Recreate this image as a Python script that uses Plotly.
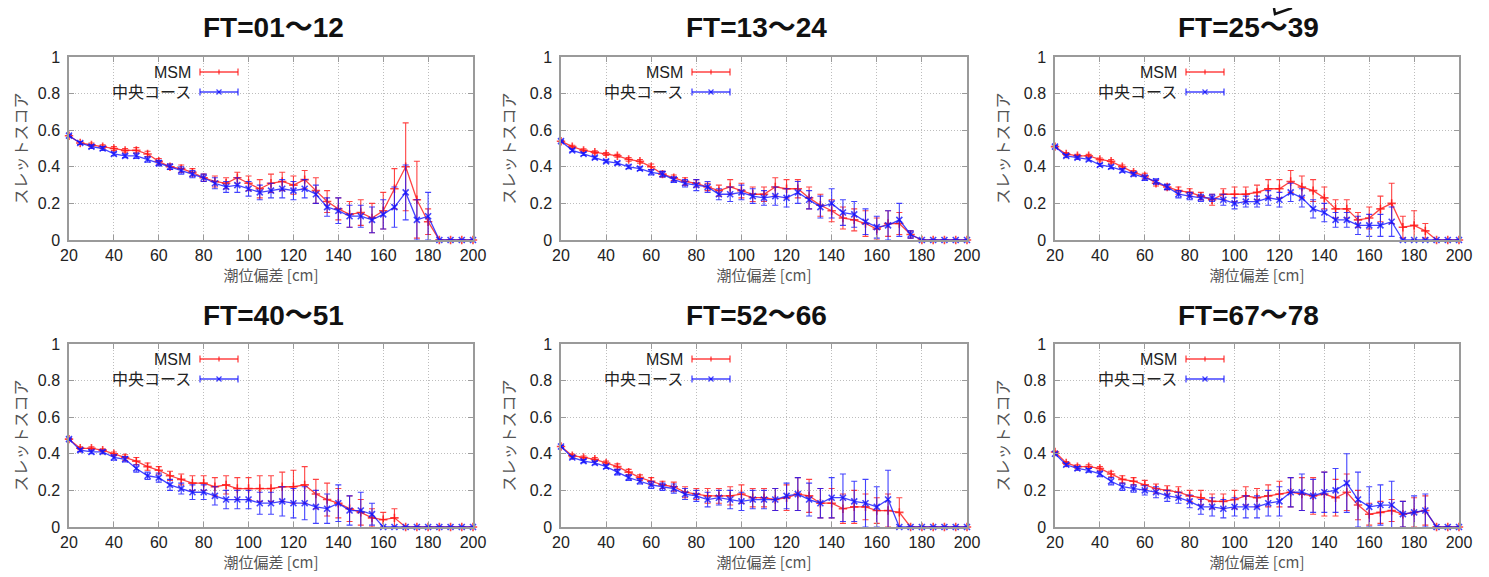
import plotly.graph_objects as go

# ---------------- data ----------------
DEVIATION_CM = [20, 25, 30, 35, 40, 45, 50, 55, 60, 65, 70, 75, 80,
                85, 90, 95, 100, 105, 110, 115, 120, 125, 130, 135, 140,
                145, 150, 155, 160, 165, 170, 175, 180, 185, 190, 195, 200]

PANEL_TITLES = ["FT=01～12", "FT=13～24", "FT=25～39",
                "FT=40～51", "FT=52～66", "FT=67～78"]
SERIES_NAMES = ["MSM", "中央コース"]
X_TITLE = "潮位偏差 [cm]"
Y_TITLE = "スレットスコア"
X_TICKS = [20, 40, 60, 80, 100, 120, 140, 160, 180, 200]
Y_TICKS = [0, 0.2, 0.4, 0.6, 0.8, 1]
Y_TICK_LABELS = ["0", "0.2", "0.4", "0.6", "0.8", "1"]

# FT=01~12
MSM_01 = [0.57, 0.53, 0.52, 0.51, 0.50, 0.49, 0.49, 0.47, 0.43, 0.40, 0.39, 0.37, 0.34,
          0.32, 0.31, 0.34, 0.31, 0.28, 0.31, 0.32, 0.30, 0.33, 0.27, 0.21, 0.17,
          0.14, 0.15, 0.12, 0.16, 0.28, 0.40, 0.22, 0.10, 0, 0, 0, 0]
MSM_01_ERR = [0.005, 0.008, 0.01, 0.01, 0.01, 0.01, 0.015, 0.015, 0.015, 0.015, 0.02, 0.02, 0.02,
              0.03, 0.03, 0.03, 0.04, 0.05, 0.05, 0.05, 0.05, 0.05, 0.07, 0.06, 0.06,
              0.07, 0.07, 0.08, 0.10, 0.11, 0.24, 0.21, 0.07, 0, 0, 0, 0]
CEN_01 = [0.57, 0.53, 0.51, 0.50, 0.47, 0.46, 0.46, 0.44, 0.42, 0.40, 0.38, 0.36, 0.34,
          0.31, 0.29, 0.30, 0.28, 0.26, 0.27, 0.28, 0.27, 0.28, 0.25, 0.18, 0.16,
          0.13, 0.13, 0.11, 0.14, 0.18, 0.26, 0.11, 0.13, 0, 0, 0, 0]
CEN_01_ERR = [0.005, 0.008, 0.01, 0.01, 0.01, 0.01, 0.015, 0.015, 0.015, 0.015, 0.02, 0.02, 0.02,
              0.03, 0.03, 0.04, 0.04, 0.04, 0.04, 0.05, 0.05, 0.05, 0.05, 0.05, 0.07,
              0.06, 0.06, 0.07, 0.08, 0.11, 0.15, 0.11, 0.13, 0, 0, 0, 0]

# FT=13~24
MSM_13 = [0.54, 0.51, 0.49, 0.48, 0.47, 0.46, 0.44, 0.43, 0.40, 0.36, 0.34, 0.32, 0.31,
          0.29, 0.27, 0.29, 0.27, 0.25, 0.25, 0.29, 0.28, 0.28, 0.23, 0.19, 0.16,
          0.12, 0.11, 0.09, 0.06, 0.09, 0.09, 0.03, 0, 0, 0, 0, 0]
MSM_13_ERR = [0.005, 0.008, 0.008, 0.008, 0.008, 0.008, 0.01, 0.01, 0.015, 0.015, 0.015, 0.02, 0.02,
              0.02, 0.03, 0.04, 0.04, 0.04, 0.04, 0.05, 0.05, 0.05, 0.06, 0.06, 0.06,
              0.06, 0.06, 0.07, 0.06, 0.07, 0.06, 0.02, 0, 0, 0, 0, 0]
CEN_13 = [0.54, 0.49, 0.47, 0.45, 0.43, 0.42, 0.40, 0.39, 0.37, 0.36, 0.33, 0.31, 0.30,
          0.29, 0.25, 0.25, 0.26, 0.24, 0.23, 0.24, 0.23, 0.26, 0.22, 0.18, 0.20,
          0.15, 0.14, 0.10, 0.07, 0.08, 0.11, 0.03, 0, 0, 0, 0, 0]
CEN_13_ERR = [0.005, 0.008, 0.008, 0.008, 0.008, 0.008, 0.01, 0.01, 0.015, 0.015, 0.015, 0.02, 0.03,
              0.03, 0.03, 0.04, 0.04, 0.04, 0.04, 0.05, 0.05, 0.06, 0.05, 0.06, 0.08,
              0.07, 0.07, 0.07, 0.06, 0.08, 0.09, 0.02, 0, 0, 0, 0, 0]

# FT=25~39
MSM_25 = [0.51, 0.47, 0.46, 0.46, 0.44, 0.43, 0.40, 0.37, 0.35, 0.31, 0.29, 0.27, 0.26,
          0.24, 0.22, 0.25, 0.25, 0.25, 0.26, 0.28, 0.28, 0.32, 0.29, 0.27, 0.23,
          0.17, 0.17, 0.11, 0.12, 0.17, 0.20, 0.07, 0.08, 0.05, 0, 0, 0]
MSM_25_ERR = [0.005, 0.008, 0.008, 0.008, 0.008, 0.01, 0.01, 0.01, 0.015, 0.015, 0.015, 0.02, 0.02,
              0.02, 0.03, 0.03, 0.04, 0.04, 0.04, 0.05, 0.05, 0.06, 0.06, 0.06, 0.06,
              0.05, 0.05, 0.04, 0.06, 0.07, 0.11, 0.06, 0.08, 0.04, 0, 0, 0]
CEN_25 = [0.51, 0.46, 0.45, 0.44, 0.41, 0.40, 0.38, 0.36, 0.34, 0.32, 0.29, 0.25, 0.24,
          0.23, 0.23, 0.22, 0.20, 0.21, 0.21, 0.23, 0.22, 0.26, 0.23, 0.17, 0.15,
          0.11, 0.11, 0.08, 0.08, 0.08, 0.10, 0, 0, 0, 0, 0, 0]
CEN_25_ERR = [0.005, 0.008, 0.008, 0.008, 0.008, 0.01, 0.01, 0.01, 0.015, 0.015, 0.015, 0.02, 0.02,
              0.02, 0.02, 0.03, 0.03, 0.03, 0.03, 0.04, 0.04, 0.05, 0.05, 0.05, 0.05,
              0.04, 0.04, 0.05, 0.06, 0.06, 0.08, 0, 0, 0, 0, 0, 0]

# FT=40~51
MSM_40 = [0.48, 0.43, 0.43, 0.42, 0.40, 0.38, 0.36, 0.33, 0.31, 0.28, 0.26, 0.24, 0.24,
          0.22, 0.23, 0.21, 0.21, 0.21, 0.21, 0.22, 0.22, 0.23, 0.18, 0.15, 0.13,
          0.10, 0.08, 0.05, 0.04, 0.05, 0, 0, 0, 0, 0, 0, 0]
MSM_40_ERR = [0.005, 0.008, 0.008, 0.008, 0.01, 0.015, 0.02, 0.02, 0.02, 0.025, 0.03, 0.04, 0.04,
              0.05, 0.05, 0.06, 0.06, 0.07, 0.07, 0.08, 0.09, 0.10, 0.08, 0.09, 0.08,
              0.07, 0.07, 0.05, 0.04, 0.05, 0, 0, 0, 0, 0, 0, 0]
CEN_40 = [0.48, 0.42, 0.41, 0.41, 0.38, 0.37, 0.32, 0.28, 0.27, 0.23, 0.21, 0.19, 0.19,
          0.17, 0.15, 0.15, 0.15, 0.13, 0.13, 0.14, 0.13, 0.13, 0.11, 0.10, 0.13,
          0.09, 0.09, 0.07, 0, 0, 0, 0, 0, 0, 0, 0, 0]
CEN_40_ERR = [0.005, 0.008, 0.01, 0.01, 0.015, 0.015, 0.02, 0.02, 0.025, 0.03, 0.03, 0.04, 0.04,
              0.05, 0.05, 0.05, 0.05, 0.06, 0.06, 0.08, 0.08, 0.09, 0.09, 0.08, 0.10,
              0.08, 0.10, 0.06, 0, 0, 0, 0, 0, 0, 0, 0, 0]

# FT=52~66
MSM_52 = [0.44, 0.39, 0.38, 0.37, 0.35, 0.33, 0.30, 0.27, 0.25, 0.23, 0.22, 0.19, 0.18,
          0.17, 0.17, 0.17, 0.18, 0.16, 0.16, 0.15, 0.16, 0.18, 0.17, 0.13, 0.13,
          0.10, 0.11, 0.11, 0.09, 0.09, 0.08, 0, 0, 0, 0, 0, 0]
MSM_52_ERR = [0.005, 0.008, 0.008, 0.01, 0.01, 0.015, 0.015, 0.015, 0.02, 0.02, 0.025, 0.03, 0.03,
              0.04, 0.04, 0.05, 0.05, 0.05, 0.05, 0.06, 0.07, 0.09, 0.09, 0.08, 0.08,
              0.08, 0.09, 0.07, 0.07, 0.09, 0.08, 0, 0, 0, 0, 0, 0]
CEN_52 = [0.44, 0.38, 0.36, 0.35, 0.33, 0.30, 0.27, 0.25, 0.23, 0.22, 0.21, 0.18, 0.17,
          0.15, 0.16, 0.15, 0.14, 0.15, 0.15, 0.15, 0.17, 0.18, 0.15, 0.13, 0.16,
          0.16, 0.14, 0.13, 0.11, 0.15, 0, 0, 0, 0, 0, 0, 0]
CEN_52_ERR = [0.005, 0.008, 0.008, 0.01, 0.01, 0.015, 0.015, 0.015, 0.02, 0.02, 0.025, 0.03, 0.03,
              0.04, 0.04, 0.05, 0.05, 0.05, 0.05, 0.06, 0.07, 0.09, 0.09, 0.08, 0.11,
              0.13, 0.11, 0.13, 0.11, 0.16, 0, 0, 0, 0, 0, 0, 0]

# FT=67~78
MSM_67 = [0.41, 0.35, 0.33, 0.33, 0.32, 0.29, 0.26, 0.25, 0.23, 0.21, 0.20, 0.19, 0.17,
          0.16, 0.14, 0.14, 0.15, 0.17, 0.16, 0.17, 0.18, 0.19, 0.18, 0.17, 0.18,
          0.16, 0.19, 0.12, 0.07, 0.08, 0.09, 0.07, 0.08, 0.09, 0, 0, 0]
MSM_67_ERR = [0.005, 0.008, 0.01, 0.01, 0.01, 0.015, 0.02, 0.02, 0.025, 0.025, 0.025, 0.03, 0.03,
              0.04, 0.04, 0.04, 0.05, 0.05, 0.05, 0.06, 0.07, 0.08, 0.09, 0.10, 0.12,
              0.10, 0.10, 0.08, 0.06, 0.06, 0.06, 0.07, 0.08, 0.08, 0, 0, 0]
CEN_67 = [0.40, 0.34, 0.32, 0.31, 0.29, 0.25, 0.22, 0.21, 0.20, 0.19, 0.17, 0.16, 0.14,
          0.11, 0.11, 0.10, 0.11, 0.11, 0.11, 0.13, 0.14, 0.19, 0.19, 0.17, 0.19,
          0.20, 0.24, 0.15, 0.11, 0.12, 0.12, 0.07, 0.08, 0.09, 0, 0, 0]
CEN_67_ERR = [0.005, 0.008, 0.01, 0.01, 0.015, 0.02, 0.02, 0.02, 0.025, 0.03, 0.03, 0.03, 0.035,
              0.04, 0.05, 0.05, 0.05, 0.06, 0.06, 0.07, 0.08, 0.08, 0.10, 0.09, 0.11,
              0.12, 0.16, 0.15, 0.11, 0.11, 0.13, 0.07, 0.09, 0.09, 0, 0, 0]

PANELS = [
    (MSM_01, MSM_01_ERR, CEN_01, CEN_01_ERR),
    (MSM_13, MSM_13_ERR, CEN_13, CEN_13_ERR),
    (MSM_25, MSM_25_ERR, CEN_25, CEN_25_ERR),
    (MSM_40, MSM_40_ERR, CEN_40, CEN_40_ERR),
    (MSM_52, MSM_52_ERR, CEN_52, CEN_52_ERR),
    (MSM_67, MSM_67_ERR, CEN_67, CEN_67_ERR),
]

# ---------------- layout / style ----------------
VIEW_W, VIEW_H = 1489, 577
OFF = 8                      # page body margin of the html page
W, H = VIEW_W - OFF, VIEW_H - OFF
# plot-area boxes in screen pixels: (left, right, top, bottom)
BOXES = [(69, 473, 57, 240), (561, 967, 57, 240), (1055, 1459, 57, 240),
         (69, 473, 344, 527), (561, 967, 344, 527), (1055, 1459, 344, 527)]
TITLE_CX = [273, 756, 1248, 273, 756, 1248]


def px_x(x):
    return (x - OFF) / W


def px_y(y):
    return 1 - (y - OFF) / H


RED = "rgba(255,20,20,0.8)"
BLUE = "rgba(20,20,255,0.8)"
AXIS_GRAY = "#9a9a9a"
GRID_GRAY = "#bdbdbd"
LATIN = "Liberation Sans, Arial, Noto Sans CJK JP, sans-serif"
CJK = "Noto Sans CJK JP, Liberation Sans, sans-serif"

fig = go.Figure()
layout = dict(
    template="none",
    width=W, height=H,
    margin=dict(l=0, r=0, t=0, b=0, pad=0, autoexpand=False),
    paper_bgcolor="white", plot_bgcolor="white",
    showlegend=False,
    font=dict(family=LATIN, color="#222"),
)
annotations = []
shapes = []

for i, box in enumerate(BOXES):
    k = i + 1
    sx = "" if k == 1 else str(k)
    x0, x1, y0, y1 = box
    pw, ph = x1 - x0, y1 - y0
    layout["xaxis" + sx] = dict(
        domain=[px_x(x0), px_x(x1)], range=[20, 200], anchor="y" + sx, automargin=False,
        tickvals=X_TICKS, ticks="inside", ticklen=5, tickcolor=AXIS_GRAY, tickwidth=1,
        showline=True, linecolor=AXIS_GRAY, linewidth=1.5, mirror="ticks",
        showgrid=True, gridcolor=GRID_GRAY, griddash="1px,2px", gridwidth=1,
        zeroline=False, tickfont=dict(size=16, color="#222", family=LATIN),
        title=dict(text=X_TITLE, standoff=6, font=dict(size=15, color="#555", family=CJK)),
    )
    layout["yaxis" + sx] = dict(
        domain=[px_y(y1), px_y(y0)], range=[0, 1], anchor="x" + sx, automargin=False,
        tickvals=Y_TICKS, ticktext=Y_TICK_LABELS, ticks="inside", ticklen=5,
        tickcolor=AXIS_GRAY, tickwidth=1,
        showline=True, linecolor=AXIS_GRAY, linewidth=1.5, mirror="ticks",
        showgrid=True, gridcolor=GRID_GRAY, griddash="1px,2px", gridwidth=1,
        zeroline=False, tickfont=dict(size=16, color="#222", family=LATIN),
        ticklabelstandoff=4,
        title=dict(text=Y_TITLE, standoff=10, font=dict(size=16, color="#555", family=CJK)),
    )

    msm, msm_err, cen, cen_err = PANELS[i]
    for vals, errs, color, sym in ((msm, msm_err, RED, "cross-thin"),
                                   (cen, cen_err, BLUE, "x-thin")):
        fig.add_trace(go.Scatter(
            x=DEVIATION_CM, y=vals, xaxis="x" + sx, yaxis="y" + sx,
            mode="lines+markers", cliponaxis=False,
            line=dict(color=color, width=1.3),
            marker=dict(symbol=sym, size=6, color=color, line=dict(color=color, width=1.6)),
            error_y=dict(type="data", array=errs, visible=True, color=color,
                         thickness=1.1, width=3),
        ))

    # panel title
    annotations.append(dict(
        text="<b>" + PANEL_TITLES[i] + "</b>", xref="paper", yref="paper",
        x=px_x(TITLE_CX[i]), y=px_y(y0 - 29), xanchor="center", yanchor="middle",
        showarrow=False, font=dict(size=28, color="#111", family=LATIN),
    ))

    # gnuplot-style key: text on the left, sample on the right
    xd, yd = "x" + sx + " domain", "y" + sx + " domain"
    sx0, sx1 = 131 / pw, 169 / pw
    cx = (sx0 + sx1) / 2
    for j, (name, color, ky) in enumerate(((SERIES_NAMES[0], RED, 1 - 15 / ph),
                                          (SERIES_NAMES[1], BLUE, 1 - 35 / ph))):
        annotations.append(dict(
            text=name, xref=xd, yref=yd, x=124 / pw, y=ky, xanchor="right", yanchor="middle",
            showarrow=False, font=dict(size=16, color="#222", family=LATIN),
        ))
        cap = 3.5 / ph
        line = dict(color=color, width=1.3)
        shapes.append(dict(type="line", xref=xd, yref=yd, x0=sx0, x1=sx1, y0=ky, y1=ky, line=line))
        shapes.append(dict(type="line", xref=xd, yref=yd, x0=sx0, x1=sx0, y0=ky - cap, y1=ky + cap, line=line))
        shapes.append(dict(type="line", xref=xd, yref=yd, x0=sx1, x1=sx1, y0=ky - cap, y1=ky + cap, line=line))
        mx, my = 2.5 / pw, 2.5 / ph
        if j == 0:
            shapes.append(dict(type="line", xref=xd, yref=yd, x0=cx, x1=cx, y0=ky - my, y1=ky + my, line=line))
        else:
            shapes.append(dict(type="line", xref=xd, yref=yd, x0=cx - mx, x1=cx + mx, y0=ky - my, y1=ky + my, line=line))
            shapes.append(dict(type="line", xref=xd, yref=yd, x0=cx - mx, x1=cx + mx, y0=ky + my, y1=ky - my, line=line))

# callout pointer fragment at the top edge (only its lower part is on the page)
shapes.append(dict(
    type="path", xref="paper", yref="paper",
    path="M {:.5f},{:.5f} L {:.5f},{:.5f} L {:.5f},{:.5f}".format(
        px_x(1274), 1.0, px_x(1275), px_y(14), px_x(1292), 1.0),
    line=dict(color="#111", width=2.5),
))

layout["annotations"] = annotations
layout["shapes"] = shapes
fig.update_layout(**layout)
fig.write_html("out.html")
